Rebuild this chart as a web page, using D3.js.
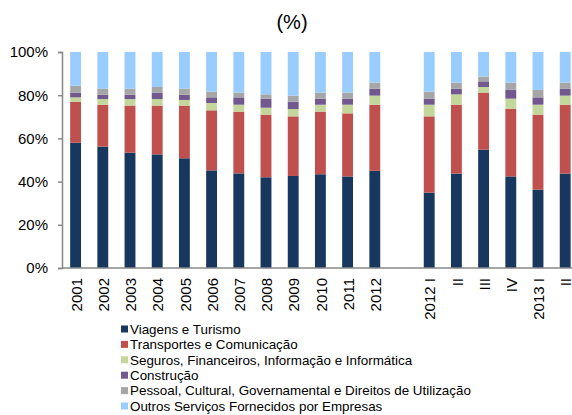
<!DOCTYPE html>
<html>
<head>
<meta charset="utf-8">
<script src="https://cdn.jsdelivr.net/npm/d3@7"></script>
<style>
  body { margin: 0; background: #fff; }
  text { font-family: "Liberation Sans", Arial, sans-serif; fill: #000; }
</style>
</head>
<body>
<div id="chart"></div>
<script>
// category labels (a blank slot separates the years from the quarters)
const years = ["2001","2002","2003","2004","2005","2006","2007","2008","2009","2010","2011","2012"];
const quarters = ["2012 I","II","III","IV","2013 I","II"];

// shares in % for each category (years then quarters)
const viagens     = [58.0,56.2,53.4,52.6,50.8,45.2,43.8,42.0,42.6,43.4,42.4,45.0, 34.9,43.7,54.8,42.4,36.3,43.7];
const transportes = [19.0,19.4,21.8,22.6,24.4,27.8,28.6,29.0,27.6,29.0,29.2,30.6, 35.3,31.9,26.4,31.2,34.7,31.9];
const seguros     = [2.0,2.6,3.0,3.0,2.6,3.4,3.2,3.2,3.4,3.2,4.0,4.2, 5.4,4.8,2.6,4.8,4.6,4.2];
const construcao  = [2.2,2.0,2.0,3.0,2.4,2.6,3.4,4.2,3.4,2.8,2.8,3.2, 2.8,2.6,2.6,4.2,3.4,3.2];
const pessoal     = [3.2,2.8,2.8,2.6,2.8,2.6,2.2,2.0,2.8,2.8,2.8,2.8, 3.2,2.8,2.2,3.2,3.4,2.8];
const outros      = [15.6,17.0,17.0,16.2,17.0,18.4,18.8,19.6,20.2,18.8,18.8,14.2, 18.4,14.2,11.4,14.2,17.6,14.2];

const seriesNames = [
  "Viagens e Turismo",
  "Transportes e Comunicação",
  "Seguros, Financeiros, Informação e Informática",
  "Construção",
  "Pessoal, Cultural, Governamental e Direitos de Utilização",
  "Outros Serviços Fornecidos por Empresas"
];
const yTicks = [0, 20, 40, 60, 80, 100];

const seriesValues = [viagens, transportes, seguros, construcao, pessoal, outros];
const colors = ["#17375E", "#C0504D", "#C3D69B", "#71588F", "#A6A6A6", "#99CCFF"];

const width = 572, height = 415;
const margin = { top: 52, left: 62, bottom: 268 };

// build the rows: one slot per category plus an empty gap slot
const labels = years.concat(quarters);
const slots = labels.map((l, i) => i < years.length ? i : i + 1);
const nSlots = labels.length + 1;

const svg = d3.select("#chart").append("svg")
  .attr("width", width)
  .attr("height", height);

const x = d3.scaleBand()
  .domain(d3.range(nSlots))
  .range([margin.left, margin.left + nSlots * 27.2])
  .paddingInner(0.6)
  .paddingOuter(0.3);

const y = d3.scaleLinear().domain([0, 100]).range([margin.bottom, margin.top]);

// stacked data
const rows = labels.map((l, i) => {
  const r = { slot: slots[i], label: l };
  seriesNames.forEach((s, k) => { r[s] = seriesValues[k][i]; });
  return r;
});
const stack = d3.stack().keys(seriesNames)(rows);

svg.append("g")
  .selectAll("g")
  .data(stack)
  .enter().append("g")
  .attr("fill", (d, i) => colors[i])
  .selectAll("rect")
  .data(d => d)
  .enter().append("rect")
  .attr("x", d => x(d.data.slot))
  .attr("width", x.bandwidth())
  .attr("y", d => y(d[1]))
  .attr("height", d => y(d[0]) - y(d[1]));

// y axis
const yAxis = svg.append("g")
  .attr("transform", `translate(${margin.left},0)`)
  .call(d3.axisLeft(y).tickValues(yTicks).tickSize(4).tickPadding(10).tickFormat(d => d + "%"));
yAxis.select(".domain").attr("stroke", "#888").attr("stroke-width", 1.5);
yAxis.selectAll(".tick line").attr("stroke", "#888").attr("stroke-width", 1.5);
yAxis.selectAll("text").style("font-size", "15px").attr("fill", "#000");

// x axis line
svg.append("line")
  .attr("x1", margin.left).attr("x2", width)
  .attr("y1", y(0)).attr("y2", y(0))
  .attr("stroke", "#888").attr("stroke-width", 1.5);

// rotated category labels
svg.append("g")
  .selectAll("text")
  .data(rows)
  .enter().append("text")
  .attr("transform", d => `translate(${x(d.slot) + x.bandwidth() / 2 + 1},${y(0) + 10}) rotate(-90)`)
  .attr("text-anchor", "end")
  .attr("dy", "0.35em")
  .style("font-size", "15px")
  .text(d => d.label);

// title
svg.append("text")
  .attr("x", 292)
  .attr("y", 29)
  .attr("text-anchor", "middle")
  .style("font-size", "20px")
  .text("(%)");

// legend
const legend = svg.append("g")
  .selectAll("g")
  .data(seriesNames)
  .enter().append("g")
  .attr("transform", (d, i) => `translate(121,${329 + i * 15.4})`);

legend.append("rect")
  .attr("x", 0).attr("y", -3.5)
  .attr("width", 7).attr("height", 7)
  .attr("fill", (d, i) => colors[i]);

legend.append("text")
  .attr("x", 9)
  .attr("dy", "0.35em")
  .style("font-size", "13.4px")
  .text(d => d);
</script>
</body>
</html>
